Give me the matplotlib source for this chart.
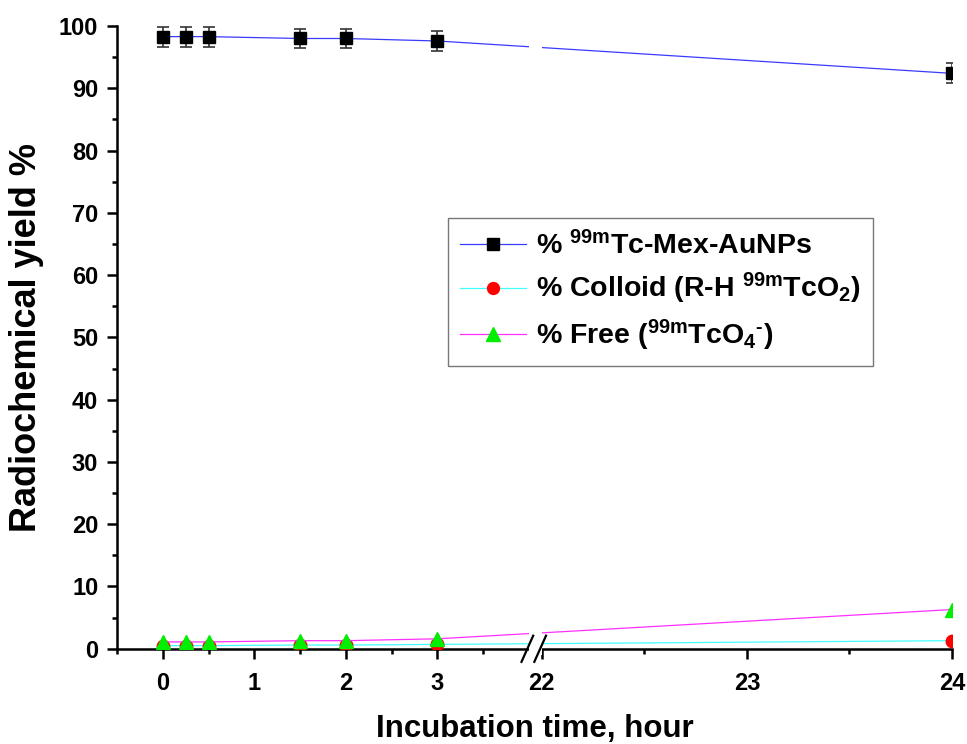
import matplotlib
matplotlib.use("Agg")
import matplotlib.pyplot as plt
import matplotlib.patches as mpatches
import numpy as np

plt.rcParams['font.family'] = ['Liberation Sans', 'DejaVu Sans']
plt.rcParams['font.weight'] = 'bold'
plt.rcParams['mathtext.fontset'] = 'custom'
plt.rcParams['mathtext.rm'] = 'Liberation Sans:bold'
plt.rcParams['mathtext.bf'] = 'Liberation Sans:bold'
plt.rcParams['mathtext.default'] = 'bf'

# data
time_h = [0, 0.25, 0.5, 1.5, 2, 3, 24]
tc_mex = [98.3, 98.3, 98.3, 98.0, 98.0, 97.6, 92.4]
tc_mex_err = [1.6, 1.6, 1.6, 1.6, 1.6, 1.6, 1.6]
colloid = [0.5, 0.5, 0.5, 0.6, 0.6, 0.7, 1.3]
free = [1.1, 1.1, 1.1, 1.3, 1.3, 1.6, 6.3]

x_ticks = [0, 1, 2, 3, 22, 23, 24]
x_minor = [-0.5, 0.5, 1.5, 2.5, 3.5, 22.5, 23.5]

# broken x axis: 0-4 h on the left, 22-24 h stretched on the right
xp = [-1.0, 4.0, 22.0, 25.0]
fp = [-1.0, 4.0, 4.14, 4.14 + 3 * 2.24]

def fwd(x):
    return np.interp(x, xp, fp)

def inv(y):
    return np.interp(y, fp, xp)

fig = plt.figure(figsize=(9.67, 7.44), dpi=100)
ax = fig.add_axes([0.121, 0.128, 0.8635, 0.837])
ax.set_xscale('function', functions=(fwd, inv))

ax.errorbar(time_h, tc_mex, yerr=tc_mex_err, fmt='none', ecolor='#333333',
            elinewidth=1.2, capsize=4.5, capthick=1.2, zorder=2)
ax.plot(time_h, tc_mex, color='#3a3aff', lw=0.9, marker='s', ms=9,
        mfc='black', mec='black', label=r'% $^{99m}$Tc-Mex-AuNPs', zorder=3)
ax.plot(time_h, colloid, color='#40ffff', lw=0.9, marker='o', ms=9,
        mfc='red', mec='red', label=r'% Colloid (R-H $^{99m}$TcO$_2$)', zorder=3)
ax.plot(time_h, free, color='#ff30ff', lw=0.9, marker='^', ms=10,
        mfc='#00ee00', mec='#00ee00', label='% Free ($^{99m}$TcO$_4$$^{‐}$)', zorder=4)

ax.set_xlim(-0.5, 24)
ax.set_ylim(0, 100)
ax.set_xticks(x_ticks)
ax.set_xticks(x_minor, minor=True)
ax.set_yticks(np.arange(0, 101, 10))
ax.set_yticks(np.arange(5, 100, 10), minor=True)

for s in ['top', 'right']:
    ax.spines[s].set_visible(False)
for s in ['left', 'bottom']:
    ax.spines[s].set_linewidth(1.8)
ax.tick_params(which='major', direction='out', length=7.5, width=1.8, labelsize=17, pad=6)
ax.tick_params(axis='x', which='major', pad=9)
ax.tick_params(which='minor', direction='out', length=3.5, width=1.8)

ax.set_xlabel('Incubation time, hour', fontsize=22.5, fontweight='bold')
ax.xaxis.set_label_coords(0.5, -0.141)
ax.xaxis.label.set_va('baseline')
ax.set_ylabel('Radiochemical yield %', fontsize=26, fontweight='bold')
ax.yaxis.set_label_coords(-0.108, 0.5)
ax.yaxis.label.set_va('center')

# break marks
to_ax = ax.transData + ax.transAxes.inverted()
xa = to_ax.transform([(4.0, 0), (22.0, 0)])[:, 0]
gap = mpatches.Rectangle((xa[0], -0.01), xa[1] - xa[0], 1.02, transform=ax.transAxes,
                         facecolor='white', edgecolor='none', clip_on=False, zorder=5)
ax.add_patch(gap)
for xb in xa:
    ax.plot([xb - 0.009, xb + 0.005], [-0.021, 0.021], transform=ax.transAxes,
            color='black', lw=1.6, clip_on=False, zorder=6)

leg = ax.legend(loc='upper left', bbox_to_anchor=(0.396, 0.692), borderaxespad=0,
                fontsize=20.5, frameon=True, fancybox=False, edgecolor='#555555',
                handlelength=2.3, handletextpad=0.35, borderpad=0.45, labelspacing=0.4,
                markerscale=0.95)
leg.get_frame().set_linewidth(1.0)

fig.savefig('out.png', dpi=100)
